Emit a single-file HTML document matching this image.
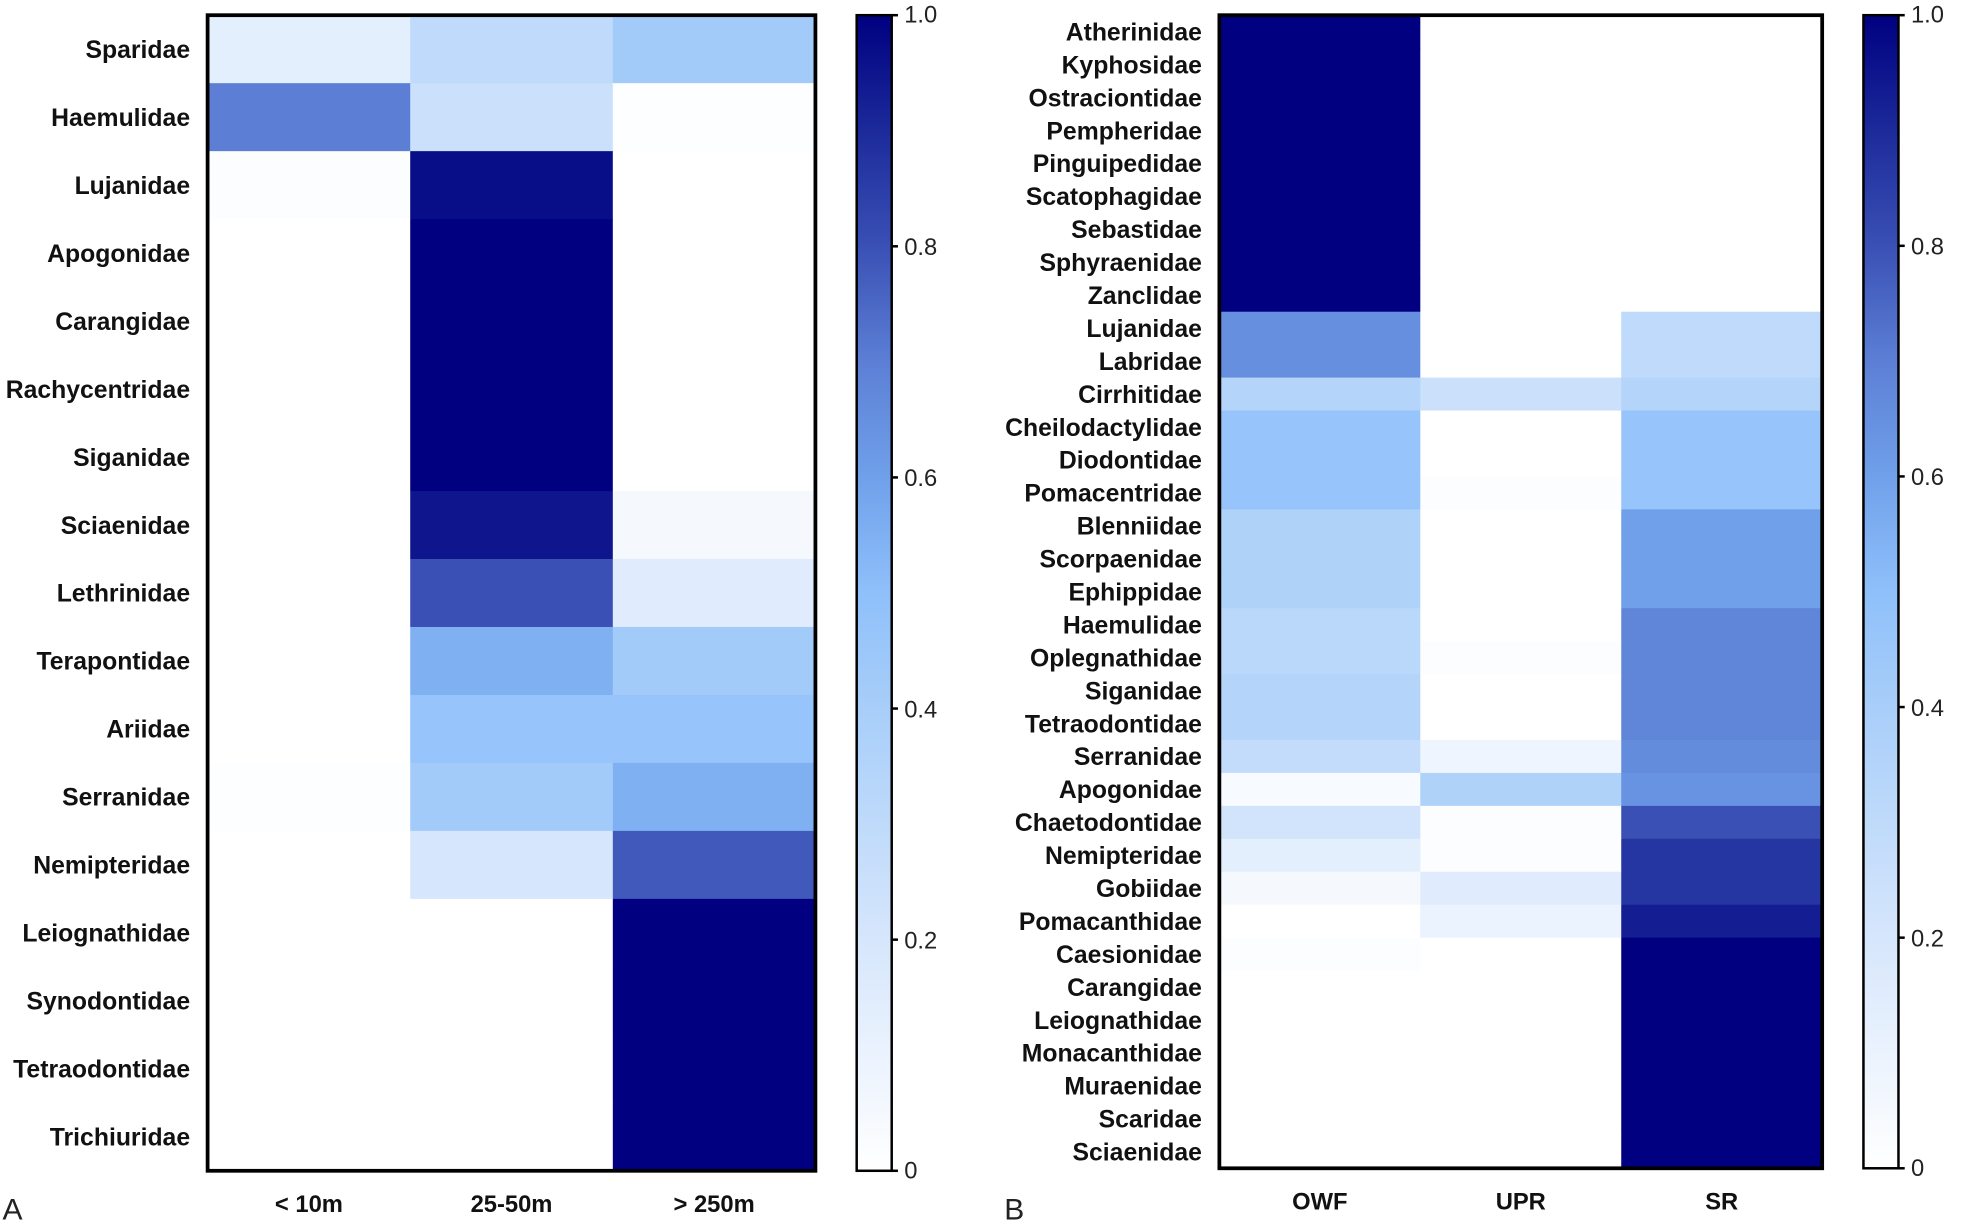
<!DOCTYPE html>
<html><head><meta charset="utf-8"><style>
html,body{margin:0;padding:0;background:#fff}
svg{display:block}
text{font-family:"Liberation Sans",sans-serif}
</style></head><body>
<svg id="chart" width="1961" height="1226" viewBox="0 0 1568 980">
<defs>
<linearGradient id="cmap" x1="0" y1="1" x2="0" y2="0"></linearGradient>
</defs>
<g id="panelA"></g>
<g id="panelB"></g>
</svg>
<script>
const rowsA = ["Sparidae","Haemulidae","Lujanidae","Apogonidae","Carangidae","Rachycentridae","Siganidae","Sciaenidae","Lethrinidae","Terapontidae","Ariidae","Serranidae","Nemipteridae","Leiognathidae","Synodontidae","Tetraodontidae","Trichiuridae"];
const colsA = ["< 10m","25-50m","> 250m"];
const valsA = [
[0.13,0.3,0.42],[0.7,0.25,0.01],[0.02,0.97,0],[0,1,0],[0,1,0],[0,1,0],[0,1,0],
[0,0.95,0.05],[0,0.8,0.15],[0,0.55,0.42],[0,0.47,0.47],[0.01,0.42,0.55],[0,0.2,0.78],
[0,0,1],[0,0,1],[0,0,1],[0,0,1]];
const rowsB = ["Atherinidae","Kyphosidae","Ostraciontidae","Pempheridae","Pinguipedidae","Scatophagidae","Sebastidae","Sphyraenidae","Zanclidae","Lujanidae","Labridae","Cirrhitidae","Cheilodactylidae","Diodontidae","Pomacentridae","Blenniidae","Scorpaenidae","Ephippidae","Haemulidae","Oplegnathidae","Siganidae","Tetraodontidae","Serranidae","Apogonidae","Chaetodontidae","Nemipteridae","Gobiidae","Pomacanthidae","Caesionidae","Carangidae","Leiognathidae","Monacanthidae","Muraenidae","Scaridae","Sciaenidae"];
const colsB = ["OWF","UPR","SR"];
const valsB = [
[1,0,0],[1,0,0],[1,0,0],[1,0,0],[1,0,0],[1,0,0],[1,0,0],[1,0,0],[1,0,0],
[0.65,0,0.3],[0.65,0,0.3],[0.35,0.25,0.35],[0.47,0,0.47],[0.47,0,0.47],[0.47,0.02,0.47],
[0.37,0,0.6],[0.37,0,0.6],[0.37,0,0.6],[0.32,0,0.68],[0.32,0.02,0.68],[0.35,0,0.68],[0.35,0,0.68],
[0.28,0.08,0.66],[0.04,0.37,0.64],[0.22,0.02,0.8],[0.13,0.02,0.87],[0.05,0.15,0.87],
[0,0.1,0.93],[0.02,0,1],[0,0,1],[0,0,1],[0,0,1],[0,0,1],[0,0,1],[0,0,1]];
const cbTicks = [0,0.2,0.4,0.6,0.8,1.0];
const cbLabels = ["0","0.2","0.4","0.6","0.8","1.0"];

const stops=[[0,[255,255,255]],[0.2,[214,230,252]],[0.4,[168,206,249]],[0.5,[143,192,250]],[0.6,[112,160,234]],[0.7,[92,127,213]],[0.8,[58,80,181]],[0.9,[28,42,154]],[1,[0,0,128]]];
function color(v){v=Math.max(0,Math.min(1,v));for(let i=1;i<stops.length;i++){if(v<=stops[i][0]){const [a,ca]=stops[i-1],[b,cb]=stops[i];const t=(v-a)/(b-a);return `rgb(${ca.map((c,k)=>Math.round(c+(cb[k]-c)*t)).join(',')})`;}}return 'rgb(0,0,128)';}
const NS="http://www.w3.org/2000/svg";
const grad=document.getElementById('cmap');
stops.forEach(s=>{const st=document.createElementNS(NS,'stop');st.setAttribute('offset',s[0]);st.setAttribute('stop-color',`rgb(${s[1].join(',')})`);grad.appendChild(st);});
function mk(tag,attrs,parent,txt){const e=document.createElementNS(NS,tag);for(const k in attrs)e.setAttribute(k,attrs[k]);if(txt!==undefined)e.textContent=txt;parent.appendChild(e);return e;}

function panel(g,rows,cols,vals,x0,x1,y0,y1,cbx,letter,lx){
  const rh=(y1-y0)/rows.length, cw=(x1-x0)/cols.length;
  const fs=19.8;
  vals.forEach((r,i)=>r.forEach((v,j)=>{
    const c=mk('rect',{x:x0+j*cw,y:y0+i*rh,width:cw+0.5,height:rh+0.5,fill:color(v)},g);
    
    
  }));
  const b=mk('rect',{x:x0,y:y0,width:x1-x0,height:y1-y0,fill:'none',stroke:'#000','stroke-width':3},g);
  
  rows.forEach((r,i)=>{const t=mk('text',{x:x0-14,y:y0+(i+0.5)*rh+7,'text-anchor':'end','font-size':fs,'font-weight':'bold',fill:'#111'},g,r);
    });
  cols.forEach((c,j)=>{const t=mk('text',{x:x0+(j+0.5)*cw,y:y1+33,'text-anchor':'middle','font-size':19,'font-weight':'bold',fill:'#111'},g,c);
    });
  const cb=mk('rect',{x:cbx,y:y0,width:28,height:y1-y0,fill:'url(#cmap)',stroke:'#000','stroke-width':2},g);
  
  cbTicks.forEach((tv,k)=>{const y=y1-tv*(y1-y0);
    mk('line',{x1:cbx+28,x2:cbx+33,y1:y,y2:y,stroke:'#000','stroke-width':2},g);
    const t=mk('text',{x:cbx+38,y:y+(k==0?6:k==5?6:7),'font-size':19,fill:'#222'},g,cbLabels[k]);
    });
  const L=mk('text',{x:lx,y:975,'font-size':24,fill:'#222'},g,letter);
  
}
panel(document.getElementById('panelA'),rowsA,colsA,valsA,166,652,12,936,685,'A',2);
panel(document.getElementById('panelB'),rowsB,colsB,valsB,975,1457,12,934,1490,'B',803);
</script>
</body></html>
